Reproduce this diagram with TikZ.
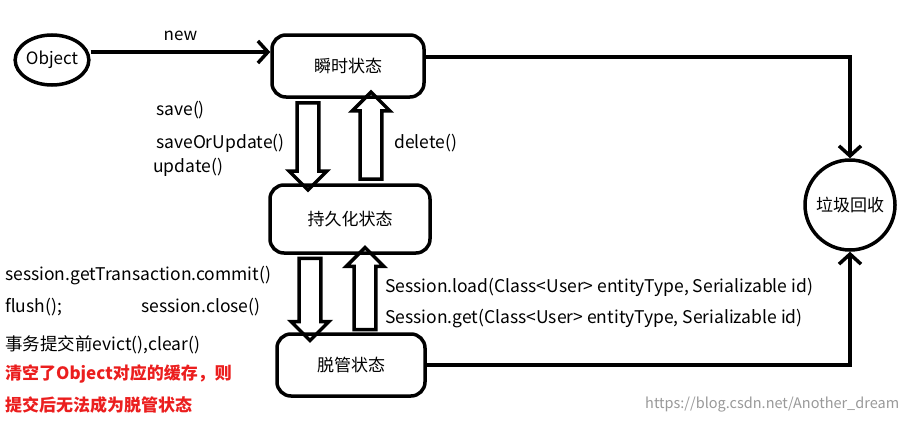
\documentclass[tikz,border=0pt]{standalone}
\usepackage{fontspec}
\setmainfont{Noto Sans CJK SC}
\usetikzlibrary{arrows.meta, positioning, shapes.arrows, shapes.geometric}
\definecolor{hintRed}{RGB}{235,30,30}
\definecolor{markGray}{gray}{0.6}

\tikzset{
    state/.style={draw, line width=3.5pt, rounded corners=14pt, minimum width=152pt, minimum height=62pt, font=\fontsize{17}{19}\selectfont},
    flow/.style={line width=3.5pt, -{Straight Barb[length=10pt, width=22pt, line width=3.5pt]}},
    blockarrow/.style={draw, line width=3.5pt, single arrow, inner sep=6pt, single arrow head extend=8pt, single arrow head indent=0pt, minimum width=30pt, shape border uses incircle},
    lbl/.style={anchor=west, font=\fontsize{17.5}{19}\selectfont, inner sep=0pt}
}

\begin{document}
\begin{tikzpicture}[x=1pt, y=-1pt]
    \useasboundingbox (0,0) rectangle (909,423);

    \node[draw, line width=3.5pt, ellipse, minimum width=64pt, minimum height=50pt, inner sep=0pt, font=\fontsize{17}{19}\selectfont] (obj) at (52,60) {Object};
    \node[state] (trans) at (348,66) {瞬时状态};
    \node[state, minimum width=160pt, minimum height=68pt] (pers) at (350,219) {持久化状态};
    \node[state, minimum width=148pt] (detach) at (351,365) {脱管状态};
    \node[draw, circle, line width=3.5pt, minimum size=90pt, inner sep=0pt, font=\fontsize{17}{19}\selectfont] (gc) at (850,205) {垃圾回收};

    % new
    \draw[flow] (obj.east |- 0,52) -- (trans.west |- 0,52) node[midway, above=6pt, font=\fontsize{17}{19}\selectfont] {new};

    % to garbage
    \coordinate (t1) at (850,57);
    \coordinate (d1) at (850,365);
    \draw[flow] (trans.east |- t1) -- (t1) -- (gc.north);
    \draw[flow] (detach.east) -- (d1) -- (gc.south);

    % block arrows
    \node[blockarrow, minimum height=87pt, rotate=-90] (save) at (308,141) {};
    \node[blockarrow, minimum height=87pt, rotate=90] (del) at (371,141) {};
    \node[blockarrow, minimum height=82pt, rotate=-90] (close) at (310,294) {};
    \node[blockarrow, minimum height=82pt, rotate=90] (load) at (365,294) {};

    % labels
    \node[lbl] (l1) at (156,110) {save()};
    \node[lbl] (l2) at (156,143) {saveOrUpdate()};
    \node[lbl] (l3) at (153,167) {update()};
    \node[lbl] (l4) at (394,143) {delete()};
    \node[lbl] (l5) at (385,287) {Session.load(Class<User> entityType, Serializable id)};
    \node[lbl] (l6) at (385,319) {Session.get(Class<User> entityType, Serializable id)};
    \node[lbl] (l7) at (5,276) {session.getTransaction.commit()};
    \node[lbl] (l8) at (5,307) {flush();};
    \node[lbl] (l9) at (141,307) {session.close()};
    \node[lbl] (l10) at (5,345) {事务提交前evict(),clear()};
    \node[lbl, text=hintRed, font=\bfseries\fontsize{17}{19}\selectfont] (l11) at (5,374) {清空了Object对应的缓存，则};
    \node[lbl, text=hintRed, font=\bfseries\fontsize{17}{19}\selectfont] (l12) at (5,405) {提交后无法成为脱管状态};
    \node[lbl, text=markGray, font=\fontsize{14.5}{16}\selectfont] (mark) at (645,405) {https://blog.csdn.net/Another\_dream};
\end{tikzpicture}
\end{document}
